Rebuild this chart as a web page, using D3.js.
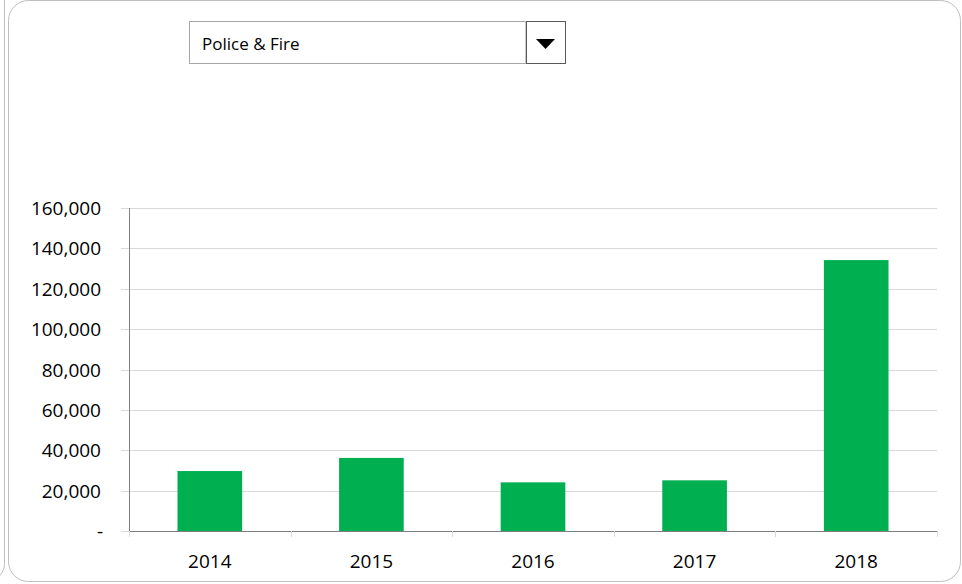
<!DOCTYPE html>
<html><head><meta charset="utf-8">
<script src="https://cdn.jsdelivr.net/npm/d3@7"></script>
<style>
html,body{margin:0;padding:0;background:#fff;}
svg{display:block;}
</style></head>
<body>
<svg id="chart" width="962" height="584"></svg>
<script>
const categories = ["2014","2015","2016","2017","2018"];
const values = [29700, 36200, 24100, 25100, 134200];
const yTicks = [0,20000,40000,60000,80000,100000,120000,140000,160000];
const selectedLabel = "Police & Fire";

(function(){
const svg = d3.select("#chart");
const font = "'Open Sans', 'Liberation Sans', Arial, sans-serif";

// frames
svg.append("rect").attr("x",-960).attr("y",-20).attr("width",964.5).attr("height",601.5)
  .attr("rx",18).attr("fill","none").attr("stroke","#bfbfbf").attr("stroke-width",1);
svg.append("rect").attr("x",8.5).attr("y",0.5).attr("width",952).attr("height",581)
  .attr("rx",20).attr("fill","none").attr("stroke","#bfbfbf").attr("stroke-width",1);

// dropdown
const dd = svg.append("g");
dd.append("rect").attr("x",189.5).attr("y",21.5).attr("width",376).attr("height",42)
  .attr("fill","#fff").attr("stroke","#a6a6a6");
dd.append("line").attr("x1",525.5).attr("x2",525.5).attr("y1",21.5).attr("y2",63.5).attr("stroke","#c8c8c8");
dd.append("rect").attr("x",526.5).attr("y",21.5).attr("width",39).attr("height",42)
  .attr("fill","none").attr("stroke","#5a5a5a");
dd.append("path").attr("d","M536,39 L555,39 L545.5,49 Z").attr("fill","#000");
dd.append("text").attr("x",202).attr("y",50).attr("font-family",font).attr("font-size",17)
  .attr("fill","#000").text(selectedLabel);

const pLeft=129, pRight=937, pTop=208, pBottom=531;
const x = d3.scaleBand().domain(categories).range([pLeft,pRight]).paddingInner(0.6).paddingOuter(0.3);
const y = d3.scaleLinear().domain([0,160000]).range([pBottom,pTop]);

// gridlines
svg.append("g").selectAll("line").data(yTicks.filter(d=>d>0)).join("line")
  .attr("x1",121).attr("x2",pRight).attr("y1",d=>Math.round(y(d))+0.5).attr("y2",d=>Math.round(y(d))+0.5)
  .attr("stroke","#d9d9d9").attr("stroke-width",1);
svg.append("line").attr("x1",121).attr("x2",129).attr("y1",pBottom+0.5).attr("y2",pBottom+0.5).attr("stroke","#d9d9d9");

// bars
svg.append("g").selectAll("rect").data(values).join("rect")
  .attr("x",(d,i)=>x(categories[i])).attr("width",x.bandwidth())
  .attr("y",d=>y(d)).attr("height",d=>pBottom-y(d))
  .attr("fill","#00b050");

// y axis line
svg.append("line").attr("x1",pLeft+0.5).attr("x2",pLeft+0.5).attr("y1",pTop).attr("y2",pBottom)
  .attr("stroke","#7f7f7f");
// x axis line
svg.append("line").attr("x1",pLeft).attr("x2",pRight).attr("y1",pBottom+0.5).attr("y2",pBottom+0.5)
  .attr("stroke","#7f7f7f");
// x ticks at category boundaries
const bounds = d3.range(categories.length+1).map(i=>pLeft + i*(pRight-pLeft)/categories.length);
svg.append("g").selectAll("line").data(bounds).join("line")
  .attr("x1",d=>Math.round(d)+0.5).attr("x2",d=>Math.round(d)+0.5).attr("y1",pBottom).attr("y2",pBottom+6)
  .attr("stroke","#d9d9d9");

// y labels
const fmt = d3.format(",");
svg.append("g").selectAll("text").data(yTicks).join("text")
  .attr("x",d=>d===0?103:101).attr("y",d=>y(d)+7)
  .attr("text-anchor","end").attr("font-family",font).attr("font-size",19).attr("fill","#000")
  .text(d=>d===0?"-":fmt(d));

// x labels
svg.append("g").selectAll("text").data(categories).join("text")
  .attr("x",d=>x(d)+x.bandwidth()/2).attr("y",568)
  .attr("text-anchor","middle").attr("font-family",font).attr("font-size",19).attr("fill","#000")
  .text(d=>d);
})();
</script>
</body></html>
